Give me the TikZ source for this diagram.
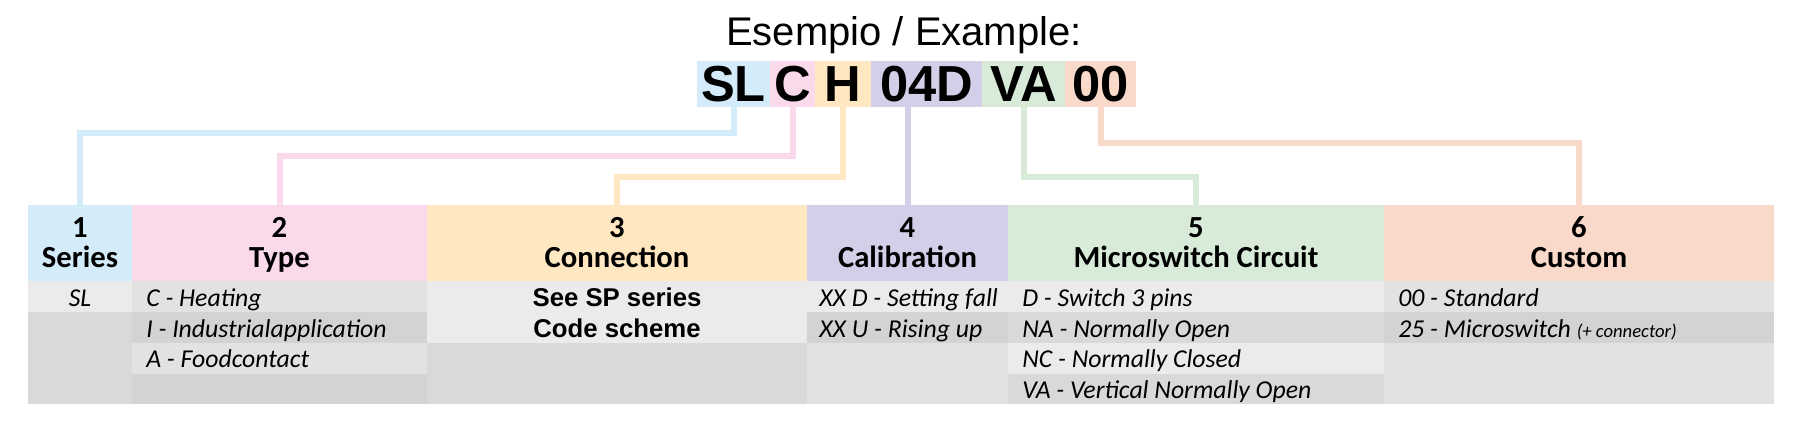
\documentclass[tikz,border=0pt]{standalone}
\usepackage{fontspec}
\setmainfont{Carlito}
\newfontfamily\arialfont{Liberation Sans}
\definecolor{cBlue}{HTML}{D4EBFA}
\definecolor{cPink}{HTML}{FADAEA}
\definecolor{cOrange}{HTML}{FEE7C1}
\definecolor{cPurple}{HTML}{D5CEE8}
\definecolor{cGreen}{HTML}{D8EBD9}
\definecolor{cSalmon}{HTML}{F9D9C9}
\definecolor{gA}{HTML}{EBEBEB}
\definecolor{gB}{HTML}{E2E2E2}
\definecolor{gC}{HTML}{D9D9D9}
\definecolor{gD}{HTML}{D3D3D3}
\definecolor{txt}{HTML}{000000}
\begin{document}
\begin{tikzpicture}[x=0.75pt,y=-0.75pt,
  codebox/.style={fill=#1, inner sep=0pt, minimum height=34.5pt, text=black,
    font=\arialfont\fontsize{38}{40}\selectfont\bfseries},
  hdrcell/.style={fill=#1, inner sep=0pt, minimum height=57pt},
  conn/.style={draw=#1, line width=4.5pt},
  hnum/.style={anchor=base, inner sep=0pt, text=txt, font=\fontsize{23}{25}\selectfont\bfseries},
  item/.style={anchor=base west, inner sep=0pt, text=txt, font=\fontsize{19.3}{21}\selectfont\itshape},
  seesp/.style={anchor=base, inner sep=0pt, text=txt, font=\arialfont\fontsize{19.3}{21}\selectfont\bfseries}
]
\useasboundingbox[fill=white] (0,0) rectangle (1800,433);

% title
\node[anchor=base, inner sep=0pt, font=\arialfont\fontsize{30}{32}\selectfont] (title) at (904,45) {Esempio / Example:};

% code boxes
\node[codebox=cBlue,   minimum width=54.75pt] (sl) at (733.5,84) {SL};
\node[codebox=cPink,   minimum width=33.75pt] (cc) at (792.5,84) {C};
\node[codebox=cOrange, minimum width=42pt]    (hh) at (843,84) {H};
\node[codebox=cPurple, minimum width=83.25pt] (dd) at (926.5,84) {04D};
\node[codebox=cGreen,  minimum width=62.25pt] (va) at (1023.5,84) {VA};
\node[codebox=cSalmon, minimum width=53.25pt] (oo) at (1100.5,84) {00};

% header cells
\node[hdrcell=cBlue,   minimum width=78pt]    (h1) at (80,243) {};
\node[hdrcell=cPink,   minimum width=221.25pt] (h2) at (279.5,243) {};
\node[hdrcell=cOrange, minimum width=285pt]   (h3) at (617,243) {};
\node[hdrcell=cPurple, minimum width=150.75pt] (h4) at (907.5,243) {};
\node[hdrcell=cGreen,  minimum width=282pt]   (h5) at (1196,243) {};
\node[hdrcell=cSalmon, minimum width=292.5pt] (h6) at (1579,243) {};

% connectors
\draw[conn=cBlue]   (sl.south) -- ++(0,26) -| (h1.north);
\draw[conn=cPink]   (cc.south) -- ++(0,49) -| (h2.north);
\draw[conn=cOrange] (hh.south) -- ++(0,70) -| (h3.north);
\draw[conn=cPurple] (h4.north |- dd.south) -- (h4.north);
\draw[conn=cGreen]  (va.south) -- ++(0,70) -| (h5.north);
\draw[conn=cSalmon] (oo.south) -- ++(0,36) -| (h6.north);

% header texts
\node[hnum] (n1) at (80,237) {1};
\node[hnum] (t1) at (80,267) {Series};
\node[hnum] (n2) at (279.5,237) {2};
\node[hnum] (t2) at (279.5,267) {Type};
\node[hnum] (n3) at (617,237) {3};
\node[hnum] (t3) at (617,267) {Connection};
\node[hnum] (n4) at (907.5,237) {4};
\node[hnum] (t4) at (907.5,267) {Calibration};
\node[hnum] (n5) at (1196,237) {5};
\node[hnum] (t5) at (1196,267) {Microswitch Circuit};
\node[hnum] (n6) at (1579,237) {6};
\node[hnum] (t6) at (1579,267) {Custom};

% body cells
% col 1
\fill[gA] (28,281) rectangle (132,312);
\fill[gC] (28,312) rectangle (132,404);
% col 2
\fill[gB] (132,281) rectangle (427,312);
\fill[gD] (132,312) rectangle (427,343);
\fill[gB] (132,343) rectangle (427,374);
\fill[gD] (132,374) rectangle (427,404);
% col 3
\fill[gA] (427,281) rectangle (807,343);
\fill[gC] (427,343) rectangle (807,404);
% col 4
\fill[gA] (807,281) rectangle (1008,312);
\fill[gD] (807,312) rectangle (1008,343);
\fill[gB] (807,343) rectangle (1008,404);
% col 5
\fill[gA] (1008,281) rectangle (1384,312);
\fill[gC] (1008,312) rectangle (1384,343);
\fill[gA] (1008,343) rectangle (1384,374);
\fill[gC] (1008,374) rectangle (1384,404);
% col 6
\fill[gB] (1384,281) rectangle (1774,312);
\fill[gD] (1384,312) rectangle (1774,343);
\fill[gB] (1384,343) rectangle (1774,404);

% body texts
\node[item, anchor=base] (i11) at (80,306) {SL};
\node[item] (i21) at (146,306) {C - Heating};
\node[item] (i22) at (146,337) {I - Industrialapplication};
\node[item] (i23) at (146,367) {A - Foodcontact};
\node[seesp] (i31) at (617,306) {See SP series};
\node[seesp] (i32) at (617,337) {Code scheme};
\node[item] (i41) at (819,306) {XX D - Setting fall};
\node[item] (i42) at (819,337) {XX U - Rising up};
\node[item] (i51) at (1022,306) {D - Switch 3 pins};
\node[item] (i52) at (1022,337) {NA - Normally Open};
\node[item] (i53) at (1022,367) {NC - Normally Closed};
\node[item] (i54) at (1022,398) {VA - Vertical Normally Open};
\node[item] (i61) at (1398,306) {00 - Standard};
\node[item] (i62) at (1398,337) {25 - Microswitch {\fontsize{14}{16}\selectfont(+ connector)}};
\end{tikzpicture}
\end{document}
